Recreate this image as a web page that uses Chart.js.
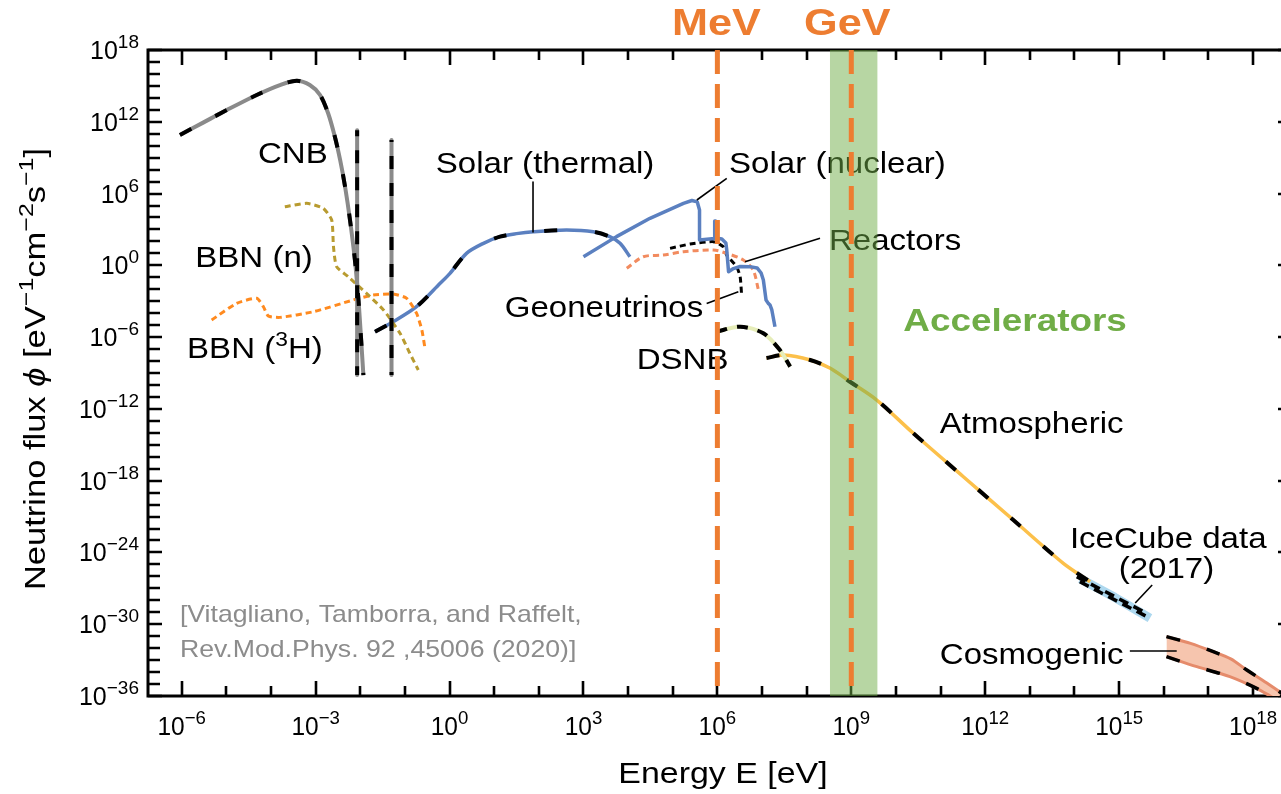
<!DOCTYPE html>
<html><head><meta charset="utf-8">
<script src="https://cdn.jsdelivr.net/npm/chart.js@4.4.1/dist/chart.umd.min.js"></script>
<style>html,body{margin:0;padding:0;overflow:hidden;background:#fff}canvas{display:block}</style>
</head><body>
<canvas id="c" width="1296" height="794"></canvas>
<script>
// All values are log10: E in eV, flux in eV^-1 cm^-2 s^-1
const cnbE = [-6.04,-5.52,-4.99,-4.32,-3.80,-3.42,-3.13,-2.90,-2.72,-2.57,-2.45,-2.34,-2.23,-2.12,-2.04,-1.98,-1.93];
const cnbF = [10.9,11.93,12.98,14.24,15.07,15.43,15.07,14.24,12.71,10.76,8.8,6.57,3.79,0.45,-2.9,-6.24,-9.17];
const cnbLine1E = [-2.07,-2.07]; const cnbLine1F = [11.3,-9.17];
const cnbLine2E = [-1.30,-1.30]; const cnbLine2F = [10.48,-9.17];
const bbnNE = [-3.69,-3.2,-2.83,-2.64,-2.6,-2.53,-2.27,-1.86,-1.48,-1.11,-0.89,-0.70];
const bbnNF = [4.9,5.18,4.77,3.79,1.56,-0.11,-0.95,-2.34,-3.73,-5.68,-7.35,-8.75];
const bbnHE = [-5.33,-4.77,-4.32,-4.17,-4.06,-3.80,-3.05,-2.16,-1.71,-1.26,-0.96,-0.74,-0.62,-0.55];
const bbnHF = [-4.57,-3.18,-2.76,-3.46,-4.24,-4.35,-3.88,-2.9,-2.48,-2.4,-2.76,-4.0,-5.41,-6.94];
const thermalE = [-1.67,-1.26,-0.74,-0.21,0.01,0.38,0.76,1.13,1.5,1.88,2.62,3.22,3.59,3.82,4.04];
const thermalF = [-5.55,-4.71,-3.46,-1.5,-0.67,1.0,1.84,2.4,2.65,2.81,2.95,2.81,2.4,1.84,0.72];
const nuclearE = [3.0,3.74,4.49,5.24,5.43,5.55,5.6,5.6,5.93,5.94,5.96,5.97,6.1,6.19,6.21,6.25,6.36,6.51,6.73,6.89,6.98,7.03,7.09,7.14,7.18,7.22,7.29];
const nuclearF = [0.72,2.4,3.93,5.18,5.42,5.3,4.63,2.12,2.24,3.7,3.7,2.28,2.2,1.87,1.28,-0.53,-0.27,-0.1,-0.11,-0.22,-0.64,-1.23,-2.9,-3.18,-3.32,-3.73,-5.13];
const reactorE = [3.97,4.34,4.79,5.24,5.91,6.21,6.58,6.80,6.92];
const reactorF = [-0.25,0.72,0.86,1.14,1.28,1.0,0.44,-0.39,-2.06];
const geoE = [4.94,5.39,5.91,6.13,6.21,6.43,6.51,6.54];
const geoF = [1.42,1.78,1.98,1.56,0.86,-0.11,-0.95,-2.34];
const dsnbE = [5.98,6.51,7.03,7.40,7.63];
const dsnbF = [-5.55,-5.13,-5.68,-7.08,-8.47];
const atmE = [7.1,7.48,8.08,8.53,8.97,9.57,10.39,11.51,12.63,13.75,14.35];
const atmF = [-7.75,-7.5,-7.91,-8.61,-9.73,-11.26,-14.04,-17.67,-21.29,-24.91,-26.45];
const iceE = [14.13,14.9,15.69];
const iceF = [-26.2,-27.75,-29.5];
const iceUpE = [14.05,15.62]; const iceUpF = [-26.03,-29.09];
const iceLoE = [14.12,15.69]; const iceLoF = [-26.45,-29.5];
const cosmoUpE = [16.06,16.6,17.11,17.5,17.86,18.3,18.85];
const cosmoUpF = [-31.04,-31.6,-32.3,-32.9,-33.83,-34.9,-36.3];
const cosmoLoE = [16.06,16.74,17.48,18.08,18.38,18.6];
const cosmoLoF = [-32.71,-33.55,-34.38,-35.36,-36.0,-36.5];
const mevE = [6,6]; const gevE = [9,9]; const vlineF = [18,-36];
const accelE = [8.52,9.59]; const accelF = [18,18];
// annotation pointer segments
const ptrThermalE = [1.87,1.87]; const ptrThermalF = [6.97,2.79];
const ptrNuclearE = [5.54,6.21]; const ptrNuclearF = [5.46,7.27];
const ptrReactorE = [6.62,8.30]; const ptrReactorF = [0.3,2.26];
const ptrGeoE = [5.76,6.47]; const ptrGeoF = [-3.18,-2.2];
const ptrIceE = [15.36,15.74]; const ptrIceF = [-28.23,-26.72];
const ptrCosmoE = [15.24,16.29]; const ptrCosmoF = [-32.24,-32.24];
// axis ticks
const xTickLabels = [-6,-3,0,3,6,9,12,15,18];
const yTickLabels = [18,12,6,0,-6,-12,-18,-24,-30,-36];
const xMin = -6.755, xMax = 18.85, yMin = -36, yMax = 18;

const FONT = "'Liberation Sans', Arial, Helvetica, sans-serif";
const pts = (xs, ys) => xs.map((x, i) => ({x, y: ys[i]}));
function line(label, xs, ys, color, width, order, extra) {
  return Object.assign({label, data: pts(xs, ys), borderColor: color, borderWidth: width,
    pointRadius: 0, fill: false, tension: 0, order, borderCapStyle: 'butt', borderJoinStyle: 'round'}, extra || {});
}
const BLUE = '#5b80c0', GRAY = '#8a8a8a', BLK = '#000';
const datasets = [
  line('MeV', mevE, vlineF, '#ed7d31', 5, 0, {borderDash: [24, 10]}),
  line('GeV', gevE, vlineF, '#ed7d31', 5, 0, {borderDash: [24, 10]}),
  line('Accelerators', accelE, accelF, 'rgba(0,0,0,0)', 0, 1, {fill: 'start', backgroundColor: 'rgba(112,173,71,0.5)'}),
  line('ptr thermal', ptrThermalE, ptrThermalF, BLK, 1.6, 2),
  line('ptr nuclear', ptrNuclearE, ptrNuclearF, BLK, 1.6, 2),
  line('ptr reactor', ptrReactorE, ptrReactorF, BLK, 1.6, 2),
  line('ptr geo', ptrGeoE, ptrGeoF, BLK, 1.6, 2),
  line('ptr ice', ptrIceE, ptrIceF, BLK, 1.6, 2),
  line('ptr cosmo', ptrCosmoE, ptrCosmoF, BLK, 1.6, 2),
  line('CNB dash', cnbE, cnbF, BLK, 4, 3, {borderDash: [13, 27], tension: 0.3}),
  line('CNB line1 dash', cnbLine1E, cnbLine1F, BLK, 4, 3, {borderDash: [13, 14], borderDashOffset: -20}),
  line('CNB line2 dash', cnbLine2E, cnbLine2F, BLK, 4, 3, {borderDash: [13, 14], borderDashOffset: -16}),
  line('Thermal dash', thermalE, thermalF, BLK, 4, 3, {borderDash: [13, 38], tension: 0.3}),
  line('DSNB dash', dsnbE, dsnbF, BLK, 4, 3, {borderDash: [11, 10], tension: 0.3}),
  line('Atm dash', atmE, atmF, BLK, 4, 3, {borderDash: [13, 30], tension: 0.3}),
  line('Ice up dash', iceUpE, iceUpF, BLK, 3.5, 3, {borderDash: [10, 6]}),
  line('Ice lo dash', iceLoE, iceLoF, BLK, 3.5, 3, {borderDash: [10, 6]}),
  line('Cosmo up dash', cosmoUpE, cosmoUpF, BLK, 3.5, 3, {borderDash: [14, 28], tension: 0.3}),
  line('Cosmo lo dash', cosmoLoE, cosmoLoF, BLK, 3.5, 3, {borderDash: [14, 28], tension: 0.3}),
  line('CNB', cnbE, cnbF, GRAY, 4, 4, {tension: 0.3}),
  line('CNB line1', cnbLine1E, cnbLine1F, GRAY, 4, 4),
  line('CNB line2', cnbLine2E, cnbLine2F, GRAY, 4, 4),
  line('BBN (n)', bbnNE, bbnNF, '#b89b30', 3, 4, {borderDash: [6, 4], tension: 0.2}),
  line('BBN (3H)', bbnHE, bbnHF, '#ff8a1f', 3, 4, {borderDash: [6, 4], tension: 0.2}),
  line('Solar thermal', thermalE, thermalF, BLUE, 3.5, 4, {tension: 0.3}),
  line('Solar nuclear', nuclearE, nuclearF, BLUE, 3.5, 4),
  line('Reactors', reactorE, reactorF, '#f28b5f', 3, 4, {borderDash: [6, 4], tension: 0.3}),
  line('Geoneutrinos', geoE, geoF, BLK, 3, 4, {borderDash: [6, 4], tension: 0.2}),
  line('DSNB', dsnbE, dsnbF, '#e6edb9', 4, 4, {tension: 0.3}),
  line('Atmospheric', atmE, atmF, '#fcc04a', 3.5, 4, {tension: 0.3}),
  line('IceCube', iceE, iceF, '#add8ef', 9, 4),
  line('Cosmogenic lower', cosmoLoE, cosmoLoF, '#e58b6b', 3, 4, {tension: 0.3}),
  line('Cosmogenic upper', cosmoUpE, cosmoUpF, '#e58b6b', 3, 5, {tension: 0.3, backgroundColor: '#f6c5ae'})
];
datasets[datasets.length - 1].fill = datasets.findIndex(d => d.label === 'Cosmogenic lower');

const annLabels = [
  {t: [['CNB']], e: -3.51, f: 9.43},
  {t: [['BBN (n)']], e: -4.38, f: 0.72},
  {t: [['BBN ('], ['3', 'sup'], ['H)']], e: -4.36, f: -6.87},
  {t: [['Solar (thermal)']], e: 2.14, f: 8.55},
  {t: [['Solar (nuclear)']], e: 8.69, f: 8.6},
  {t: [['Reactors']], e: 9.98, f: 2.12},
  {t: [['Geoneutrinos']], e: 3.46, f: -3.46},
  {t: [['DSNB']], e: 5.22, f: -7.83},
  {t: [['Atmospheric']], e: 13.04, f: -13.14},
  {t: [['IceCube data']], e: 16.1, f: -22.75},
  {t: [['(2017)']], e: 16.06, f: -25.26},
  {t: [['Cosmogenic']], e: 13.04, f: -32.49}
];

function rich(ctx, parts, x, y, align, sx, color) {
  ctx.save();
  ctx.fillStyle = color; ctx.textBaseline = 'alphabetic'; ctx.textAlign = 'left';
  let w = 0;
  for (const p of parts) { ctx.font = p.f; p.w = ctx.measureText(p.t).width; w += p.w; }
  const x0 = align === 'center' ? x - w * sx / 2 : align === 'right' ? x - w * sx : x;
  ctx.translate(x0, y); ctx.scale(sx, 1);
  let cx = 0;
  for (const p of parts) { ctx.font = p.f; ctx.fillText(p.t, cx, p.dy || 0); cx += p.w; }
  ctx.restore();
}
const sup = n => (n < 0 ? '\u2212' + (-n) : '' + n);

const decor = {
  id: 'decor',
  beforeDatasetsDraw(chart) {
    const ctx = chart.ctx, a = chart.chartArea, xs = chart.scales.x, ys = chart.scales.y;
    ctx.save();
    ctx.strokeStyle = '#000'; ctx.lineWidth = 3;
    ctx.strokeRect(a.left, a.top, a.right - a.left, a.bottom - a.top);
    ctx.lineWidth = 2.6;
    ctx.beginPath();
    for (let e = -6; e <= 18; e++) {
      const px = Math.round(xs.getPixelForValue(e));
      const len = (e % 3 === 0) ? 15 : 10;
      ctx.moveTo(px, a.bottom); ctx.lineTo(px, a.bottom - len);
      ctx.moveTo(px, a.top); ctx.lineTo(px, a.top + len);
    }
    for (let e = -36; e <= 18; e++) {
      const py = Math.round(ys.getPixelForValue(e));
      const major = (e % 6 === 0);
      ctx.moveTo(a.left, py); ctx.lineTo(a.left + (major ? 14 : 12), py);
      ctx.moveTo(a.right, py); ctx.lineTo(a.right - (major ? 13 : 8), py);
    }
    ctx.stroke();
    ctx.restore();
    const tf = '25px ' + FONT, sf = '19px ' + FONT;
    for (const e of xTickLabels) {
      rich(ctx, [{t: '10', f: tf}, {t: sup(e), f: sf, dy: -11}], xs.getPixelForValue(e), 735, 'center', 0.98, '#000');
    }
    for (const e of yTickLabels) {
      rich(ctx, [{t: '10', f: tf}, {t: sup(e), f: sf, dy: -11}], 139, ys.getPixelForValue(e) + 9, 'right', 1.0, '#000');
    }
    // axis titles
    rich(ctx, [{t: 'Energy E [eV]', f: '29px ' + FONT}], 723, 783, 'center', 1.17, '#000');
    ctx.save();
    ctx.translate(45, 369); ctx.rotate(-Math.PI / 2);
    const yf = '29px ' + FONT, ysf = '21px ' + FONT;
    rich(ctx, [{t: 'Neutrino flux ', f: yf}, {t: '\u03d5', f: 'italic ' + yf}, {t: ' [eV', f: yf},
      {t: '\u22121', f: ysf, dy: -12}, {t: 'cm', f: yf}, {t: '\u22122', f: ysf, dy: -12}, {t: 's', f: yf},
      {t: '\u22121', f: ysf, dy: -12}, {t: ']', f: yf}], 0, 0, 'center', 1.19, '#000');
    ctx.restore();
    // annotations
    const af = 29, asx = 1.14;
    for (const L of annLabels) {
      const parts = L.t.map(p => p[1] === 'sup' ? {t: p[0], f: '20px ' + FONT, dy: -12} : {t: p[0], f: af + 'px ' + FONT});
      rich(ctx, parts, xs.getPixelForValue(L.e), ys.getPixelForValue(L.f) + af * 0.36, 'center', asx, '#000');
    }
    rich(ctx, [{t: 'Accelerators', f: 'bold 31px ' + FONT}], xs.getPixelForValue(12.67), ys.getPixelForValue(-4.61) + 11, 'center', 1.19, '#70ad47');
    rich(ctx, [{t: 'MeV', f: 'bold 36px ' + FONT}], xs.getPixelForValue(5.98), ys.getPixelForValue(20.3) + 13, 'center', 1.2, '#ed7d31');
    rich(ctx, [{t: 'GeV', f: 'bold 36px ' + FONT}], xs.getPixelForValue(8.91), ys.getPixelForValue(20.3) + 13, 'center', 1.2, '#ed7d31');
    const cf = '24px ' + FONT;
    rich(ctx, [{t: '[Vitagliano, Tamborra, and Raffelt,', f: cf}], xs.getPixelForValue(-6.04), ys.getPixelForValue(-29.06) + 9, 'left', 1.11, '#8c8c8c');
    rich(ctx, [{t: 'Rev.Mod.Phys. 92 ,45006 (2020)]', f: cf}], xs.getPixelForValue(-6.04), ys.getPixelForValue(-31.99) + 9, 'left', 1.11, '#8c8c8c');
  }
};

new Chart(document.getElementById('c'), {
  type: 'line',
  data: {datasets},
  options: {
    responsive: false, animation: false, devicePixelRatio: 1,
    layout: {padding: {left: 148, top: 50, right: 5, bottom: 98}},
    plugins: {legend: {display: false}, tooltip: {enabled: false}},
    scales: {
      x: {type: 'linear', display: false, min: xMin, max: xMax},
      y: {type: 'linear', display: false, min: yMin, max: yMax}
    }
  },
  plugins: [decor]
});
</script>
</body></html>
